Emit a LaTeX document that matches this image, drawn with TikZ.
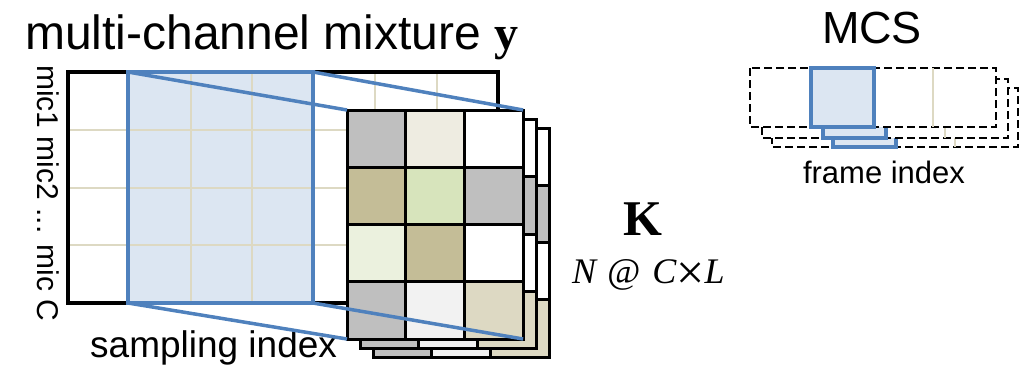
\documentclass[tikz,border=0pt]{standalone}
\usepackage{fontspec}
\setmainfont{Liberation Sans}
\newfontfamily\kserif{Liberation Serif}
\definecolor{kGray}{HTML}{BFBFBF}
\definecolor{kBeige}{HTML}{EEECE1}
\definecolor{kTan}{HTML}{C4BD97}
\definecolor{kGreen}{HTML}{D7E4BC}
\definecolor{kPale}{HTML}{EBF1DE}
\definecolor{kLGray}{HTML}{F2F2F2}
\definecolor{kSand}{HTML}{DDD9C3}
\definecolor{selBlue}{HTML}{4F81BD}
\definecolor{selFill}{HTML}{DCE6F2}
\tikzset{
  mixgrid/.style={draw=kSand,line width=2pt},
  mixbox/.style={draw,line width=3.2pt,inner sep=0pt,outer sep=0pt},
  selbox/.style={selBlue,line width=4pt,inner sep=0pt,outer sep=0pt},
  selray/.style={selBlue,line width=3.5pt},
  kcell/.style={draw,line width=3pt},
  mcsbox/.style={draw,line width=2.8pt,dash pattern=on 8pt off 4pt,fill=white},
  mcssel/.style={draw=selBlue,line width=3.5pt,fill=selFill},
  txt/.style={inner sep=0pt,font=\fontsize{#1}{#1}\selectfont},
}
\newcommand{\kgrid}[2]{% #1,#2 = offset of this copy of K
  \foreach \row [count=\r from 0] in {{kGray,kBeige,white},{kTan,kGreen,kGray},{kPale,kTan,white},{kGray,kLGray,kSand}}{
    \foreach \col [count=\c from 0] in \row{
      \draw[kcell,fill=\col] (347+#1+\c*58.7,110+#2+\r*57.25) rectangle ++(58.7,57.25);}}}
\newcommand{\ktimes}{{\upshape\fontsize{50}{50}\selectfont\raisebox{-6pt}{×}}}

\begin{document}
\begin{tikzpicture}[x=1pt,y=-1pt]
\useasboundingbox (0,0) rectangle (1027,368);
% mixture y: channels x samples
\node[selbox,fill=selFill,minimum width=185,minimum height=231] (sel) at (220.5,187.5) {};
\foreach \i in {1,...,6}{
  \draw[mixgrid] (68+\i*61.43,72) -- ++(0,231);}
\foreach \j in {1,2,3}{
  \draw[mixgrid] (68,72+\j*57.75) -- ++(430,0);}
\node[mixbox,minimum width=430,minimum height=231] (mix) at (283,187.5) {};
\draw[selbox] (sel.north west) rectangle (sel.south east);
\node[txt=48,anchor=base west] (title) at (25,49) {multi-channel mixture {\kserif\bfseries y}};
\node[txt=30,rotate=-90,anchor=base west] (mics) at (37,65) {mic1 mic2 ... mic C};
\node[txt=37,anchor=base west] (samp) at (90,357) {sampling index};
% stack of K
\kgrid{26}{18}
\kgrid{13}{9.5}
\kgrid{0}{0}
\node[inner sep=0pt,outer sep=0pt,minimum width=176.1,minimum height=229] (kfront) at (435.05,224.5) {};
\foreach \a in {north west,north east,south west,south east}{
  \draw[selray] (sel.\a) -- (kfront.\a);}
\node[txt=50,anchor=base] (klab) at (643,235) {\kserif\bfseries K};
\node[txt=36,anchor=base west] (kdim) at (572,283) {\kserif\itshape N\hspace{2pt} @\hspace{3pt} C\ktimes L};
% MCS frames
\node[txt=45,anchor=base] (mcs) at (872,43) {MCS};
\foreach \dx/\dy in {22/20,12/11,0/0}{
  \draw[mcsbox] (750+\dx,68+\dy) rectangle ++(246,59);
  \draw[mcssel] (811+\dx,68+\dy) rectangle ++(63,59);
  \draw[kSand,line width=1.5pt] (933+\dx,68+\dy) -- ++(0,59);}
\node[txt=31,anchor=base] (frm) at (884,183) {frame index};
\end{tikzpicture}
\end{document}
